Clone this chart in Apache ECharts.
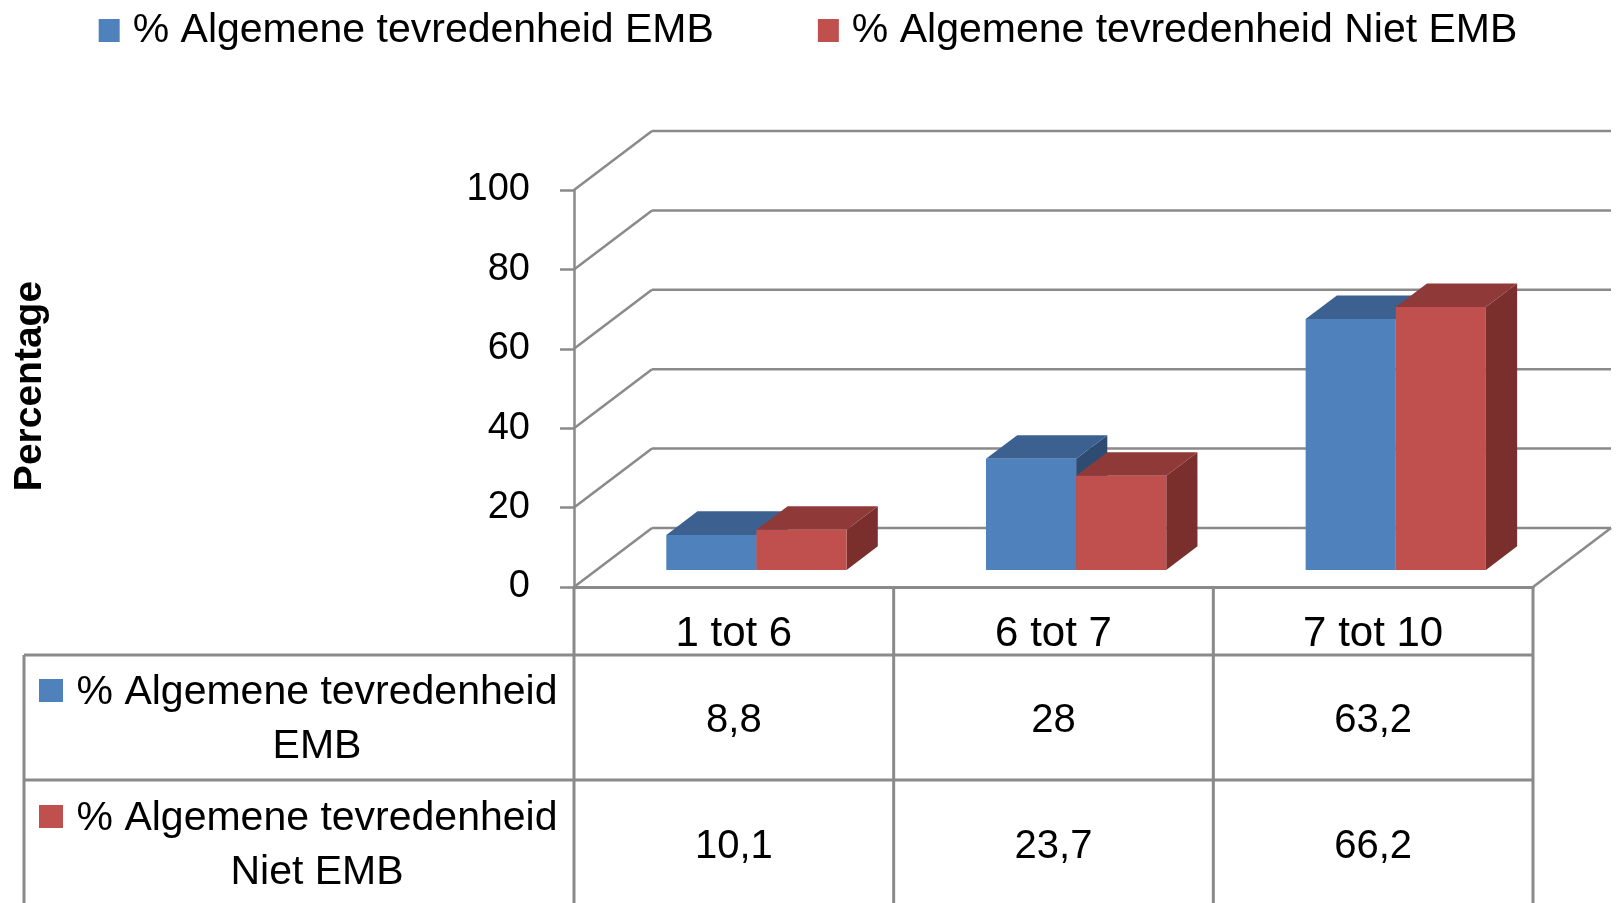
<!DOCTYPE html>
<html>
<head>
<meta charset="utf-8">
<script src="https://cdn.jsdelivr.net/npm/echarts@6/dist/echarts.min.js"></script>
<style>
	html, body { margin: 0; padding: 0; background: #fff; }
	#chart { width: 1616px; height: 903px; }
</style>
</head>
<body>
<div id="chart"></div>
<script>
// 데이터
const categories = ['1 tot 6', '6 tot 7', '7 tot 10'];
const seriesNames = ['% Algemene tevredenheid EMB', '% Algemene tevredenheid Niet EMB'];
const rowLabels = [['% Algemene tevredenheid', 'EMB'], ['% Algemene tevredenheid', 'Niet EMB']];
const embValues = [8.8, 28, 63.2];
const nietEmbValues = [10.1, 23.7, 66.2];
const yTicks = [0, 20, 40, 60, 80, 100];

const FONT = '"Liberation Sans", Arial, sans-serif';
const LINE = '#8a8a8a';
// 3D 깊이 방향 (앞면 -> 뒷벽)
const DX = 78, DY = -59;
const F1 = 0.29, F2 = 0.69;

const colors = [
	{ front: '#4F81BD', top: '#3C6191', side: '#2E4C72' },
	{ front: '#C0504D', top: '#8F3A38', side: '#7A2F2D' }
];

const fmt = v => String(v).replace('.', ',');

function boxItem(s) {
	return function (params, api) {
		const c = api.coord([api.value(0), api.value(1)]);
		const base = api.coord([api.value(0), 0]);
		const band = api.size([1, 0])[0];
		const w = band * 0.282;
		const x0 = c[0] + (s === 0 ? -w : 0) + DX * F1;
		const x1 = x0 + w;
		const yTop = c[1] + DY * F1;
		const yBot = base[1] + DY * F1;
		const ddx = DX * (F2 - F1), ddy = DY * (F2 - F1);
		const col = colors[s];
		return {
			type: 'group',
			children: [
				{ type: 'polygon', shape: { points: [[x1, yTop], [x1 + ddx, yTop + ddy], [x1 + ddx, yBot + ddy], [x1, yBot]] }, style: { fill: col.side } },
				{ type: 'polygon', shape: { points: [[x0, yTop], [x1, yTop], [x1 + ddx, yTop + ddy], [x0 + ddx, yTop + ddy]] }, style: { fill: col.top } },
				{ type: 'rect', shape: { x: x0, y: yTop, width: w, height: yBot - yTop }, style: { fill: col.front } }
			]
		};
	};
}

function wallItem(params, api) {
	const cs = params.coordSys;
	const left = cs.x, right = cs.x + cs.width;
	const y = api.coord([0, api.value(1)])[1];
	const ls = { stroke: LINE, lineWidth: 2.5 };
	const children = [
		{ type: 'line', shape: { x1: left, y1: y, x2: left + DX, y2: y + DY }, style: ls },
		{ type: 'line', shape: { x1: left + DX, y1: y + DY, x2: right + DX, y2: y + DY }, style: ls }
	];
	if (api.value(1) === 0) {
		children.push({ type: 'line', shape: { x1: right, y1: y, x2: right + DX, y2: y + DY }, style: ls });
	}
	return { type: 'group', children: children };
}

function tableItem(params, api) {
	const cs = params.coordSys;
	const i = api.value(0);
	const c = api.coord([i, 0]);
	const band = api.size([1, 0])[0];
	const y0 = c[1];
	const ls = { stroke: LINE, lineWidth: 3 };
	const txt = { fill: '#000', font: '40px ' + FONT, align: 'center', verticalAlign: 'middle' };
	const children = [
		{ type: 'line', shape: { x1: c[0] + band / 2, y1: y0, x2: c[0] + band / 2, y2: y0 + 400 }, style: ls },
		{ type: 'text', x: c[0], y: y0 + 134, style: Object.assign({ text: fmt(embValues[i]) }, txt) },
		{ type: 'text', x: c[0], y: y0 + 260, style: Object.assign({ text: fmt(nietEmbValues[i]) }, txt) }
	];
	if (i === 0) {
		const tl = 24;
		const hdr = Object.assign({}, txt, { font: '41px ' + FONT });
		children.push({ type: 'line', shape: { x1: cs.x, y1: y0, x2: cs.x, y2: y0 + 400 }, style: ls });
		children.push({ type: 'line', shape: { x1: tl, y1: y0 + 68, x2: tl, y2: y0 + 400 }, style: ls });
		children.push({ type: 'line', shape: { x1: tl, y1: y0 + 68, x2: cs.x + cs.width, y2: y0 + 68 }, style: ls });
		children.push({ type: 'line', shape: { x1: tl, y1: y0 + 193, x2: cs.x + cs.width, y2: y0 + 193 }, style: ls });
		rowLabels.forEach((lines, r) => {
			const yc = y0 + 133 + r * 126;
			children.push({ type: 'rect', shape: { x: 39, y: yc - 41, width: 24, height: 23 }, style: { fill: colors[r].front } });
			children.push({ type: 'text', x: 317, y: yc - 27, style: Object.assign({}, hdr, { text: lines[0] }) });
			children.push({ type: 'text', x: 317, y: yc + 27, style: Object.assign({}, hdr, { text: lines[1] }) });
		});
	}
	return { type: 'group', children: children };
}

const chart = echarts.init(document.getElementById('chart'));

const option = {
	animation: false,
	backgroundColor: '#fff',
	legend: {
		data: seriesNames,
		top: 5,
		left: 'center',
		icon: 'rect',
		itemWidth: 21,
		itemHeight: 23,
		itemGap: 104,
		textStyle: { fontFamily: FONT, fontSize: 41, color: '#000', padding: [0, 0, 0, 8] }
	},
	graphic: [
		{
			type: 'text',
			x: 30,
			y: 386,
			rotation: Math.PI / 2,
			style: { text: 'Percentage', font: 'bold 39px ' + FONT, fill: '#000', align: 'center', verticalAlign: 'middle' }
		}
	],
	grid: { left: 574, right: 83, top: 190, bottom: 316 },
	xAxis: {
		type: 'category',
		data: categories,
		axisLine: { show: true, lineStyle: { color: LINE, width: 3 } },
		axisTick: { show: false },
		axisLabel: { margin: 26, fontFamily: FONT, fontSize: 42, color: '#000' }
	},
	yAxis: {
		type: 'value',
		min: 0,
		max: 100,
		interval: 20,
		axisLine: { show: true, lineStyle: { color: LINE, width: 2.5 } },
		axisTick: { show: true, length: 14, lineStyle: { color: LINE, width: 2.5 } },
		axisLabel: { margin: 44, fontFamily: FONT, fontSize: 38, color: '#000' },
		splitLine: { show: false }
	},
	series: [
		{
			name: 'wall',
			type: 'custom',
			z: 1,
			silent: true,
			clip: false,
			renderItem: wallItem,
			data: yTicks.map(v => [0, v])
		},
		{
			name: seriesNames[0],
			type: 'custom',
			z: 3,
			clip: false,
			itemStyle: { color: colors[0].front },
			renderItem: boxItem(0),
			data: embValues.map((v, i) => [i, v])
		},
		{
			name: seriesNames[1],
			type: 'custom',
			z: 3,
			clip: false,
			itemStyle: { color: colors[1].front },
			renderItem: boxItem(1),
			data: nietEmbValues.map((v, i) => [i, v])
		},
		{
			name: 'table',
			type: 'custom',
			z: 2,
			silent: true,
			clip: false,
			renderItem: tableItem,
			data: categories.map((c, i) => [i, 0])
		}
	]
};

chart.setOption(option);
window.addEventListener('resize', () => chart.resize());
</script>
</body>
</html>
